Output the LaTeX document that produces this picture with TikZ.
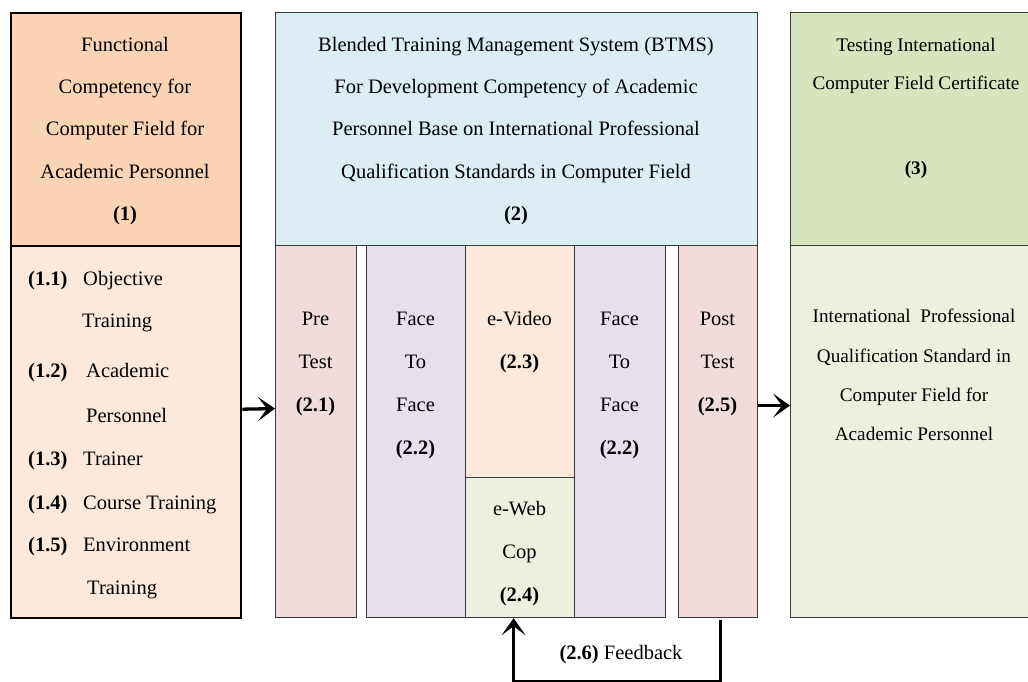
\documentclass[tikz,border=0pt]{standalone}
\usepackage{fontspec}
\setmainfont{Liberation Serif}
\usetikzlibrary{arrows.meta}
\definecolor{hdrA}{HTML}{FBD4B4}
\definecolor{lowA}{HTML}{FDE9D9}
\definecolor{hdrB}{HTML}{DAEEF3}
\definecolor{testc}{HTML}{F2DCDB}
\definecolor{facec}{HTML}{E5E0EC}
\definecolor{videoc}{HTML}{FDE9D9}
\definecolor{webc}{HTML}{EBF1DE}
\definecolor{hdrC}{HTML}{D7E4BD}
\definecolor{lowC}{HTML}{EBF1DE}
\definecolor{edge}{HTML}{3A3A3A}
\begin{document}
\begin{tikzpicture}[x=1pt,y=-1pt,
  box/.style={draw=edge, line width=1.2pt, inner sep=0pt, anchor=north west},
  boxA/.style={box, draw=black, line width=2.4pt},
  txt/.style={align=center, inner sep=0pt, font=\fontsize{20.5}{42.25}\selectfont},
  coltxt/.style={align=center, inner sep=0pt, font=\fontsize{20.5}{43}\selectfont},
  txtC/.style={align=center, inner sep=0pt, font=\fontsize{19.2}{38}\selectfont},
  txtCl/.style={align=center, inner sep=0pt, font=\fontsize{19.2}{39.3}\selectfont},
  item/.style={anchor=west, inner sep=0pt, text height=14pt, text depth=4pt, font=\fontsize{20.5}{24}\selectfont},
  arr/.style={line width=3.3pt, -{Stealth[length=17pt,width=24pt,inset=9pt]}}
]
\useasboundingbox (0,0) rectangle (1028,682);
\fill[white] (0,0) rectangle (1028,682);
\clip (0,0) rectangle (1028,682);

% column 1
\node[boxA, fill=hdrA, minimum width=230pt, minimum height=233pt] (h1) at (10,12) {};
\node[boxA, fill=lowA, minimum width=230pt, minimum height=372pt] (l1) at (10,245) {};
% column 2
\node[box, fill=hdrB, minimum width=482pt, minimum height=233pt] (h2) at (275,12) {};
\node[box, fill=testc, minimum width=81pt, minimum height=372pt] (pre) at (275,245) {};
\node[box, fill=facec, minimum width=99pt, minimum height=372pt] (f1) at (366,245) {};
\node[box, fill=videoc, minimum width=109pt, minimum height=232pt] (ev) at (465,245) {};
\node[box, fill=webc, minimum width=109pt, minimum height=140pt] (ew) at (465,477) {};
\node[box, fill=facec, minimum width=91pt, minimum height=372pt] (f2) at (574,245) {};
\node[box, fill=testc, minimum width=79pt, minimum height=372pt] (post) at (678,245) {};
% column 3
\node[box, fill=hdrC, minimum width=252pt, minimum height=233pt] (h3) at (790,12) {};
\node[box, fill=lowC, minimum width=252pt, minimum height=372pt] (l3) at (790,245) {};

% texts
\node[txt] (t1) at (125,131) {Functional\\Competency for\\Computer Field for\\Academic Personnel\\\textbf{(1)}};
\node[txt] (t2) at (516,131) {Blended Training Management System (BTMS)\\For Development Competency of Academic\\Personnel Base on International Professional\\Qualification Standards in Computer Field\\\textbf{(2)}};
\node[txtC] (t3a) at (916,66) {Testing International\\Computer Field Certificate};
\node[txtC] (t3b) at (916,170) {\textbf{(3)}};
\node[txtCl] (t3c) at (914,375) {International~ Professional\\Qualification Standard in\\Computer Field for\\Academic Personnel};

\node[item] (r1) at (28,280) {\makebox[55pt][l]{\textbf{(1.1)}}Objective};
\node[item] (r2) at (82,322) {Training};
\node[item] (r3) at (28,372) {\makebox[58pt][l]{\textbf{(1.2)}}Academic};
\node[item] (r4) at (86,417) {Personnel};
\node[item] (r5) at (28,460) {\makebox[55pt][l]{\textbf{(1.3)}}Trainer};
\node[item] (r6) at (28,504) {\makebox[55pt][l]{\textbf{(1.4)}}Course Training};
\node[item] (r7) at (28,546) {\makebox[55pt][l]{\textbf{(1.5)}}Environment};
\node[item] (r8) at (87,589) {Training};

\node[coltxt] (tpre) at (315.5,364) {Pre\\Test\\\textbf{(2.1)}};
\node[coltxt] (tf1) at (415.5,385.5) {Face\\To\\Face\\\textbf{(2.2)}};
\node[coltxt] (tev) at (519.5,342.5) {e-Video\\\textbf{(2.3)}};
\node[coltxt] (tew) at (519.5,554) {e-Web\\Cop\\\textbf{(2.4)}};
\node[coltxt] (tf2) at (619.5,385.5) {Face\\To\\Face\\\textbf{(2.2)}};
\node[coltxt] (tpost) at (717.5,364) {Post\\Test\\\textbf{(2.5)}};

% connectors
\draw[arr] ([yshift=23pt]l1.east) -- ([yshift=23pt]pre.west);
\draw[arr] ([yshift=26pt]post.east) -- ([yshift=26pt]l3.west);
\draw[arr] ([xshift=2.5pt,yshift=-2pt]post.south) -- ++(0,61) coordinate (fbc) -| ([xshift=-6.5pt]ew.south);
\node[item, anchor=center] (fb) at (621,654) {\textbf{(2.6)} Feedback};
\end{tikzpicture}
\end{document}
